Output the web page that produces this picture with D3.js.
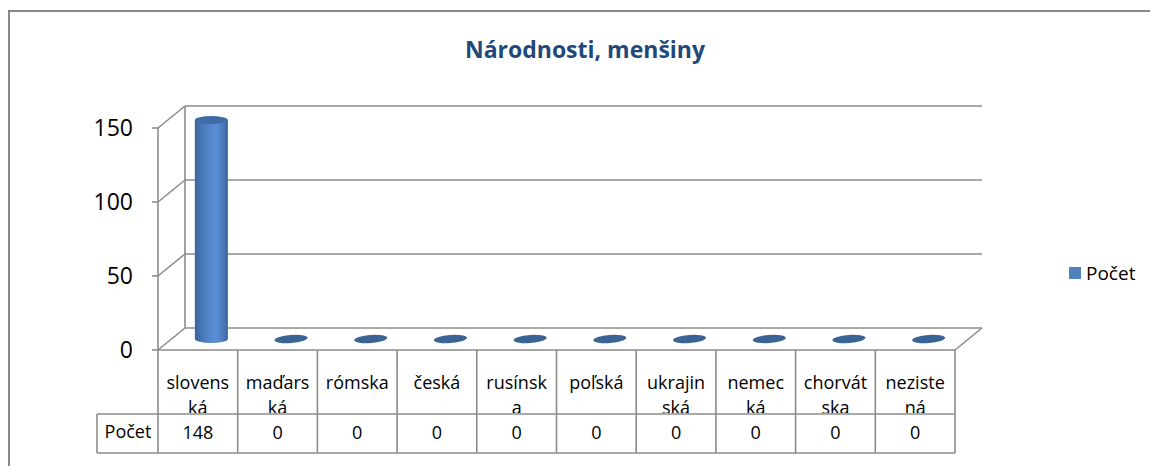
<!DOCTYPE html>
<html lang="sk">
<head>
<meta charset="utf-8">
<title>Národnosti, menšiny</title>
<script src="https://cdn.jsdelivr.net/npm/d3@7"></script>
<style>
body { margin: 0; background: #fff; }
text { font-family: "Open Sans", Lato, sans-serif; fill: #000; }
</style>
</head>
<body>
<script>
// data
var categories = ["slovenská", "maďarská", "rómska", "česká", "rusínska", "poľská", "ukrajinská", "nemecká", "chorvátska", "nezistená"];
var categoryLines = [["slovens", "ká"], ["maďars", "ká"], ["rómska"], ["česká"], ["rusínsk", "a"], ["poľská"], ["ukrajin", "ská"], ["nemec", "ká"], ["chorvát", "ska"], ["neziste", "ná"]];
var values = [148, 0, 0, 0, 0, 0, 0, 0, 0, 0];
var seriesName = "Počet";
var yTicks = [0, 50, 100, 150];

var w = 1150, h = 466;
var dx = 27, dy = -22; // depth of the 3d box
var grid = "#8c8c8c";

var svg = d3.select("body").append("svg")
  .attr("width", w).attr("height", h);

var x = d3.scaleBand().domain(categories).range([158, 955]);
var y = d3.scaleLinear().domain([0, 150]).range([350, 128]);

// outer frame
svg.append("rect").attr("x", 9).attr("y", 11).attr("width", 1160).attr("height", 480)
  .attr("fill", "none").attr("stroke", "#888").attr("stroke-width", 2);

svg.append("text").attr("x", 585).attr("y", 58).attr("text-anchor", "middle")
  .style("font-size", "23px").style("font-weight", "bold").style("fill", "#1f497d")
  .text("Národnosti, menšiny");

// walls and gridlines
var g = svg.append("g").attr("stroke", grid).attr("stroke-width", 1.6).attr("fill", "none");
yTicks.forEach(function(t) {
  g.append("line").attr("x1", x.range()[0] + dx).attr("x2", x.range()[1] + dx)
    .attr("y1", y(t) + dy).attr("y2", y(t) + dy);
  g.append("line").attr("x1", x.range()[0]).attr("x2", x.range()[0] + dx)
    .attr("y1", y(t)).attr("y2", y(t) + dy);
  g.append("line").attr("x1", x.range()[0] - 6).attr("x2", x.range()[0])
    .attr("y1", y(t)).attr("y2", y(t));
});
g.append("line").attr("x1", x.range()[0] + dx).attr("x2", x.range()[0] + dx)
  .attr("y1", y(150) + dy).attr("y2", y(0) + dy);
// floor
g.append("path").attr("d", "M" + x.range()[0] + "," + y(0) + "H" + x.range()[1] +
  "L" + (x.range()[1] + dx) + "," + (y(0) + dy));

// y labels
svg.selectAll(".ylab").data(yTicks).enter().append("text")
  .attr("x", 133).attr("y", function(d) { return y(d); }).attr("dy", "0.35em")
  .attr("text-anchor", "end").style("font-size", "23px")
  .text(function(d) { return d; });

// cylinders
var grad = svg.append("defs").append("linearGradient").attr("id", "cyl");
[["0%", "#3a659c"], ["25%", "#4a7bbd"], ["65%", "#5b8fd6"], ["90%", "#4775b2"], ["100%", "#375d8d"]]
  .forEach(function(s) { grad.append("stop").attr("offset", s[0]).attr("stop-color", s[1]); });

var rx = 16.5, ry = 4;
var bars = svg.selectAll(".bar").data(values).enter().append("g");
bars.each(function(d, i) {
  var gg = d3.select(this);
  var cx = x(categories[i]) + x.bandwidth() / 2 + dx / 2;
  var yb = y(0) + dy / 2, yt = y(d) + dy / 2;
  if (d > 0) {
    gg.append("path").attr("fill", "url(#cyl)")
      .attr("d", "M" + (cx - rx) + "," + yt + "V" + yb +
        "A" + rx + "," + ry + " 0 0 0 " + (cx + rx) + "," + yb + "V" + yt + "Z");
    gg.append("ellipse").attr("cx", cx).attr("cy", yt).attr("rx", rx).attr("ry", ry)
      .attr("fill", "#3f6ca6");
  } else {
    gg.append("ellipse").attr("cx", cx).attr("cy", yb).attr("rx", rx).attr("ry", ry)
      .attr("transform", "rotate(-4," + cx + "," + yb + ")")
      .attr("fill", "#3a6496");
  }
});

// data table
var rowTop = y(0), rowMid = 414, rowBot = 453;
var tg = svg.append("g").attr("stroke", grid).attr("stroke-width", 1.6);
x.domain().forEach(function(c) {
  tg.append("line").attr("x1", x(c)).attr("x2", x(c)).attr("y1", rowTop).attr("y2", rowBot);
});
tg.append("line").attr("x1", x.range()[1]).attr("x2", x.range()[1]).attr("y1", rowTop).attr("y2", rowBot);
tg.append("line").attr("x1", 97).attr("x2", x.range()[1]).attr("y1", rowMid).attr("y2", rowMid);
tg.append("line").attr("x1", 97).attr("x2", x.range()[1]).attr("y1", rowBot).attr("y2", rowBot);
tg.append("line").attr("x1", 97).attr("x2", 97).attr("y1", rowMid).attr("y2", rowBot);
tg.append("line").attr("x1", x.range()[0]).attr("x2", x.range()[0]).attr("y1", y(150)).attr("y2", rowTop);

svg.select("defs").append("clipPath").attr("id", "catclip")
  .append("rect").attr("x", x.range()[0]).attr("y", rowTop).attr("width", x.range()[1] - x.range()[0]).attr("height", rowMid - rowTop - 1);

var cat = svg.append("g").attr("clip-path", "url(#catclip)");
categoryLines.forEach(function(lines, i) {
  var t = cat.append("text").attr("x", x(categories[i]) + x.bandwidth() / 2).attr("y", 389)
    .attr("text-anchor", "middle").style("font-size", "18px");
  lines.forEach(function(l, j) {
    t.append("tspan").attr("x", x(categories[i]) + x.bandwidth() / 2).attr("dy", j ? 25 : 0).text(l);
  });
});

svg.append("text").attr("x", 128).attr("y", 432).attr("dy", "0.35em").attr("text-anchor", "middle")
  .style("font-size", "18px").text(seriesName);
svg.selectAll(".val").data(values).enter().append("text")
  .attr("x", function(d, i) { return x(categories[i]) + x.bandwidth() / 2; })
  .attr("y", 433).attr("dy", "0.35em").attr("text-anchor", "middle").style("font-size", "18px")
  .text(function(d) { return d; });

// legend
svg.append("rect").attr("x", 1069).attr("y", 267).attr("width", 12).attr("height", 12).attr("fill", "#4f81bd");
svg.append("text").attr("x", 1086).attr("y", 273).attr("dy", "0.35em").style("font-size", "19px").text(seriesName);
</script>
</body>
</html>
